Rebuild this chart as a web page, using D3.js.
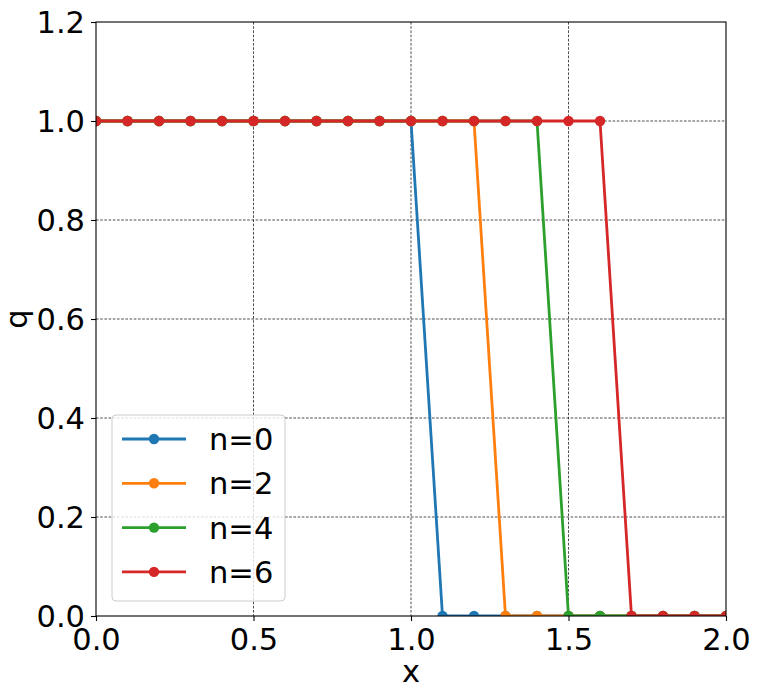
<!DOCTYPE html>
<html><head><meta charset="utf-8">
<script src="https://cdn.jsdelivr.net/npm/d3@7"></script>
<style>body{margin:0;background:#fff}svg{display:block}text{font-family:"DejaVu Sans",sans-serif;fill:#000}</style>
</head><body><svg id="c" width="761" height="688"></svg>
<script>
const xValues = [0.0,0.1,0.2,0.3,0.4,0.5,0.6,0.7,0.8,0.9,1.0,1.1,1.2,1.3,1.4,1.5,1.6,1.7,1.8,1.9,2.0];
const seriesNames = ["n=0","n=2","n=4","n=6"];
const seriesColors = ["#1f77b4","#ff7f0e","#2ca02c","#d62728"];
const qN0 = [1,1,1,1,1,1,1,1,1,1,1,0,0,0,0,0,0,0,0,0,0];
const qN2 = [1,1,1,1,1,1,1,1,1,1,1,1,1,0,0,0,0,0,0,0,0];
const qN4 = [1,1,1,1,1,1,1,1,1,1,1,1,1,1,1,0,0,0,0,0,0];
const qN6 = [1,1,1,1,1,1,1,1,1,1,1,1,1,1,1,1,1,0,0,0,0];
const xTicks = [0.0,0.5,1.0,1.5,2.0];
const yTicks = [0.0,0.2,0.4,0.6,0.8,1.0,1.2];
const seriesValues = [qN0,qN2,qN4,qN6];

const svg = d3.select("#c");
const L=96, R=726, T=22, B=616;
const x = d3.scaleLinear().domain([0,2]).range([L,R]);
const y = d3.scaleLinear().domain([0,1.2]).range([B,T]);
const fs = 30.5;

svg.append("defs").append("clipPath").attr("id","clip").append("rect")
  .attr("x",L).attr("y",T).attr("width",R-L).attr("height",B-T);

// grid
const grid = svg.append("g");
xTicks.slice(1,-1).forEach(t=>grid.append("line").attr("x1",x(t)).attr("x2",x(t)).attr("y1",T).attr("y2",B)
  .attr("stroke","#000").attr("stroke-width",0.7).attr("stroke-dasharray","2.6,1.6"));
yTicks.slice(1,-1).forEach(t=>grid.append("line").attr("y1",y(t)).attr("y2",y(t)).attr("x1",L).attr("x2",R)
  .attr("stroke","#000").attr("stroke-width",0.7).attr("stroke-dasharray","2.6,1.6"));

// series
const plot = svg.append("g").attr("clip-path","url(#clip)");
const line = d3.line().x(d=>x(d[0])).y(d=>y(d[1]));
seriesValues.forEach((vals,i)=>{
  const pts = xValues.map((xv,j)=>[xv,vals[j]]);
  plot.append("path").datum(pts).attr("d",line).attr("fill","none")
    .attr("stroke",seriesColors[i]).attr("stroke-width",2.8).attr("stroke-linejoin","round");
  plot.selectAll(null).data(pts).enter().append("circle")
    .attr("cx",d=>x(d[0])).attr("cy",d=>y(d[1])).attr("r",5.2).attr("fill",seriesColors[i]);
});

// axes
const xAxis = d3.axisBottom(x).tickValues(xTicks).tickFormat(d3.format(".1f")).tickSize(5).tickPadding(6);
const yAxis = d3.axisLeft(y).tickValues(yTicks).tickFormat(d3.format(".1f")).tickSize(5).tickPadding(6);
const gx = svg.append("g").attr("transform",`translate(0,${B})`).call(xAxis);
const gy = svg.append("g").attr("transform",`translate(${L},0)`).call(yAxis);
[gx,gy].forEach(g=>{
  g.select(".domain").remove();
  g.selectAll(".tick line").attr("stroke","#000").attr("stroke-width",1.1);
  g.selectAll(".tick text").style("font-size",fs+"px").style("font-family","DejaVu Sans").attr("fill","#000");
});
gy.selectAll(".tick text").attr("dy","0.36em");
gx.selectAll(".tick text").attr("dy","0.76em");

// spines
svg.append("rect").attr("x",L).attr("y",T).attr("width",R-L).attr("height",B-T)
  .attr("fill","none").attr("stroke","#000").attr("stroke-width",1.1);

// labels
svg.append("text").attr("x",(L+R)/2).attr("y",682).attr("text-anchor","middle").style("font-size",fs+"px").text("x");
svg.append("text").attr("transform",`translate(27,${(T+B)/2}) rotate(-90)`).attr("text-anchor","middle").style("font-size",fs+"px").text("q");

// legend
const lg = svg.append("g");
lg.append("rect").attr("x",112).attr("y",415).attr("width",173).attr("height",186).attr("rx",4)
  .attr("fill","#fff").attr("fill-opacity",0.8).attr("stroke","#ccc").attr("stroke-width",1);
seriesNames.forEach((n,i)=>{
  const cy = 439 + i*44.3;
  lg.append("line").attr("x1",122).attr("x2",186).attr("y1",cy).attr("y2",cy)
    .attr("stroke",seriesColors[i]).attr("stroke-width",2.8);
  lg.append("circle").attr("cx",154).attr("cy",cy).attr("r",5.2).attr("fill",seriesColors[i]);
  lg.append("text").attr("x",209).attr("y",cy).attr("dy","0.36em").style("font-size",fs+"px").text(n);
});
</script></body></html>
